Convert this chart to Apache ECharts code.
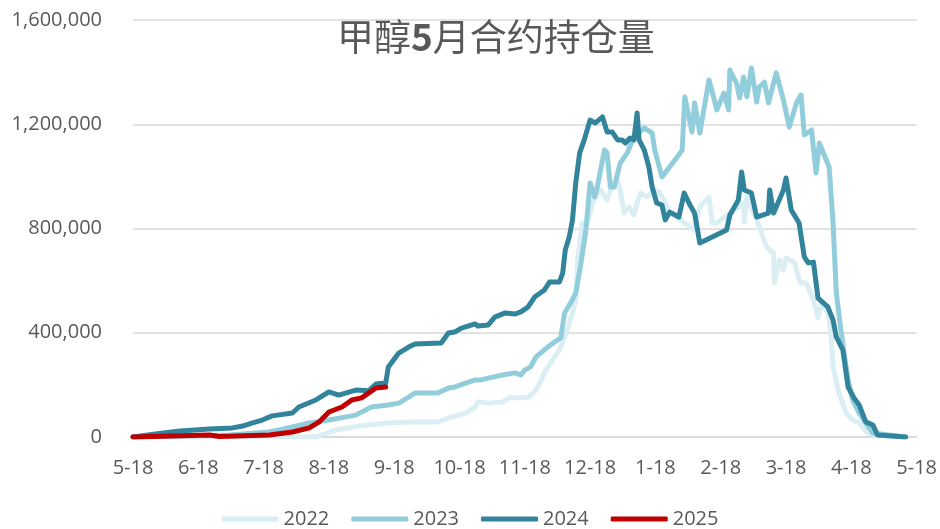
<!DOCTYPE html>
<html>
<head>
<meta charset="utf-8">
<script src="https://cdn.jsdelivr.net/npm/echarts@6/dist/echarts.min.js"></script>
<style>
  html, body { margin: 0; padding: 0; background: #fff; }
  #chart { width: 940px; height: 529px; }
</style>
</head>
<body>
<div id="chart"></div>
<script>
// Month tick labels along the contract year (x = months since 5-18)
const monthLabels = ['5-18','6-18','7-18','8-18','9-18','10-18','11-18','12-18','1-18','2-18','3-18','4-18','5-18'];
const yTicks = [0, 400000, 800000, 1200000, 1600000];
const seriesNames = ['2022', '2023', '2024', '2025'];
const seriesColors = ['#DAEEF3', '#92CDDC', '#31849B', '#C00000'];

// Open interest per season: [months since 5-18, contracts]
const oi2022 = [
  [0,0],[2.80,0],[3.11,27000],[3.46,42000],[3.91,54000],[4.22,58000],[4.67,58000],[4.83,73000],
  [5.09,92000],[5.24,115000],[5.28,134000],[5.44,130000],[5.66,134000],[5.77,153000],[5.85,150000],
  [6.05,153000],[6.15,173000],[6.23,207000],[6.32,257000],[6.46,307000],[6.55,345000],[6.65,411000],
  [6.73,476000],[6.78,526000],[6.81,679000],[6.88,821000],[6.96,821000],[7.04,898000],[7.08,921000],
  [7.16,948000],[7.26,909000],[7.31,948000],[7.42,986000],[7.46,948000],[7.52,860000],[7.60,883000],
  [7.67,852000],[7.72,898000],[7.77,936000],[7.87,921000],[7.98,948000],[8.07,936000],[8.15,898000],
  [8.22,859000],[8.33,844000],[8.59,794000],[8.68,883000],[8.82,921000],[8.87,821000],[8.94,821000],
  [9.06,844000],[9.27,883000],[9.35,898000],[9.36,825000],[9.40,921000],[9.55,833000],[9.59,806000],
  [9.70,729000],[9.81,706000],[9.82,591000],[9.90,679000],[9.96,641000],[10.00,687000],[10.13,668000],
  [10.20,603000],[10.23,591000],[10.31,591000],[10.42,526000],[10.49,457000],[10.54,514000],
  [10.64,476000],[10.69,399000],[10.72,269000],[10.81,169000],[10.92,92000],[11.02,65000],
  [11.12,54000],[11.25,15000],[11.34,8000],[11.83,0]
];
const oi2023 = [
  [0,0],[1.48,8000],[2.08,19000],[2.24,27000],[2.70,54000],[3.00,65000],[3.41,84000],[3.65,115000],
  [3.91,123000],[4.07,130000],[4.22,153000],[4.32,169000],[4.67,169000],[4.83,188000],[4.93,192000],
  [5.24,219000],[5.33,219000],[5.44,226000],[5.66,238000],[5.85,246000],[5.94,238000],[6.00,257000],
  [6.09,269000],[6.17,307000],[6.24,322000],[6.35,345000],[6.46,365000],[6.55,380000],[6.61,476000],
  [6.70,514000],[6.78,553000],[6.85,652000],[6.93,783000],[7.00,975000],[7.07,921000],[7.11,959000],
  [7.22,1101000],[7.26,1090000],[7.31,959000],[7.37,959000],[7.46,1051000],[7.57,1090000],
  [7.67,1151000],[7.83,1186000],[7.95,1166000],[7.99,1101000],[8.10,998000],[8.38,1090000],
  [8.41,1101000],[8.45,1305000],[8.56,1170000],[8.60,1282000],[8.68,1166000],[8.82,1370000],
  [8.89,1305000],[8.94,1255000],[9.05,1320000],[9.12,1255000],[9.14,1408000],[9.24,1358000],
  [9.29,1301000],[9.35,1381000],[9.40,1305000],[9.47,1416000],[9.55,1285000],[9.59,1343000],
  [9.67,1362000],[9.73,1282000],[9.85,1397000],[9.96,1293000],[10.05,1189000],[10.16,1282000],
  [10.23,1312000],[10.28,1159000],[10.39,1178000],[10.46,1013000],[10.51,1128000],[10.66,1036000],
  [10.72,821000],[10.77,553000],[10.84,411000],[10.89,322000],[10.95,219000],[11.02,142000],
  [11.12,92000],[11.22,54000],[11.33,15000],[11.83,0]
];
const oi2024 = [
  [0,0],[0.46,15000],[0.72,23000],[1.17,31000],[1.52,35000],[1.68,42000],[1.83,54000],[1.98,65000],
  [2.13,81000],[2.44,92000],[2.54,115000],[2.80,142000],[3.00,173000],[3.15,161000],[3.41,180000],
  [3.61,177000],[3.72,203000],[3.87,207000],[3.91,269000],[4.07,322000],[4.22,345000],[4.32,357000],
  [4.72,361000],[4.83,399000],[4.93,403000],[5.03,418000],[5.24,434000],[5.28,426000],[5.44,430000],
  [5.54,460000],[5.70,476000],[5.85,472000],[5.94,480000],[6.05,499000],[6.15,537000],[6.30,564000],
  [6.38,595000],[6.53,595000],[6.58,629000],[6.62,718000],[6.68,767000],[6.73,833000],[6.78,975000],
  [6.84,1090000],[6.91,1140000],[7.00,1216000],[7.08,1205000],[7.19,1228000],[7.26,1170000],
  [7.34,1170000],[7.42,1140000],[7.49,1140000],[7.54,1128000],[7.61,1147000],[7.67,1140000],
  [7.72,1243000],[7.75,1140000],[7.83,1101000],[7.90,1036000],[7.95,959000],[8.02,898000],
  [8.10,890000],[8.15,833000],[8.22,863000],[8.36,844000],[8.44,936000],[8.53,890000],[8.60,859000],
  [8.68,744000],[9.09,794000],[9.14,852000],[9.27,909000],[9.32,1017000],[9.36,948000],[9.47,936000],
  [9.55,844000],[9.73,859000],[9.75,948000],[9.81,859000],[9.96,948000],[10.00,994000],[10.08,871000],
  [10.20,821000],[10.28,691000],[10.34,668000],[10.42,671000],[10.49,533000],[10.64,499000],
  [10.72,449000],[10.77,384000],[10.87,334000],[10.95,192000],[11.04,150000],[11.12,123000],
  [11.22,58000],[11.33,46000],[11.40,8000],[11.83,0]
];
const oi2025 = [
  [0,0],[1.17,8000],[1.32,2000],[2.09,8000],[2.44,19000],[2.70,35000],[2.85,58000],[3.00,96000],
  [3.20,115000],[3.35,142000],[3.50,150000],[3.72,188000],[3.87,192000]
];

const seriesData = [oi2022, oi2023, oi2024, oi2025];
const textColor = '#595959';
const fontFamily = '"Open Sans", "Noto Sans", sans-serif';

const chart = echarts.init(document.getElementById('chart'), null, { renderer: 'canvas' });

chart.setOption({
  animation: false,
  backgroundColor: '#ffffff',
  title: {
    text: '甲醇{b|5}月合约持仓量',
    left: 332,
    top: 13,
    textStyle: {
      fontFamily: '"Noto Sans CJK SC", sans-serif',
      fontSize: 37,
      fontWeight: 'normal',
      color: textColor,
      rich: {
        b: {
          fontFamily: '"Noto Sans CJK SC", sans-serif',
          fontSize: 37,
          fontWeight: 'bold',
          color: textColor
        }
      }
    }
  },
  grid: { left: 133, right: 19, top: 20, bottom: 92, containLabel: false },
  legend: {
    bottom: -5,
    left: 'center',
    itemWidth: 57,
    itemHeight: 5,
    itemGap: 22,
    icon: 'roundRect',
    textStyle: { fontFamily: fontFamily, fontSize: 20, color: textColor },
    data: seriesNames
  },
  xAxis: {
    type: 'value',
    min: 0,
    max: 12,
    interval: 1,
    axisLine: { show: true, lineStyle: { color: '#d9d9d9', width: 1.5 } },
    axisTick: { show: false },
    splitLine: { show: false },
    axisLabel: {
      margin: 21,
      fontFamily: fontFamily,
      fontSize: 20,
      color: textColor,
      formatter: v => monthLabels[Math.round(v)]
    }
  },
  yAxis: {
    type: 'value',
    min: yTicks[0],
    max: yTicks[yTicks.length - 1],
    interval: yTicks[1] - yTicks[0],
    axisLine: { show: false },
    axisTick: { show: false },
    splitLine: { lineStyle: { color: '#d9d9d9', width: 1.5 } },
    axisLabel: {
      margin: 31,
      fontFamily: fontFamily,
      fontSize: 20,
      color: textColor,
      formatter: v => v.toLocaleString('en-US')
    }
  },
  series: seriesNames.map((name, i) => ({
    name: name,
    type: 'line',
    data: seriesData[i],
    showSymbol: false,
    symbol: 'none',
    smooth: false,
    color: seriesColors[i],
    lineStyle: { width: 5, color: seriesColors[i], join: 'round', cap: 'round' },
    z: 2 + i
  }))
});
</script>
</body>
</html>
